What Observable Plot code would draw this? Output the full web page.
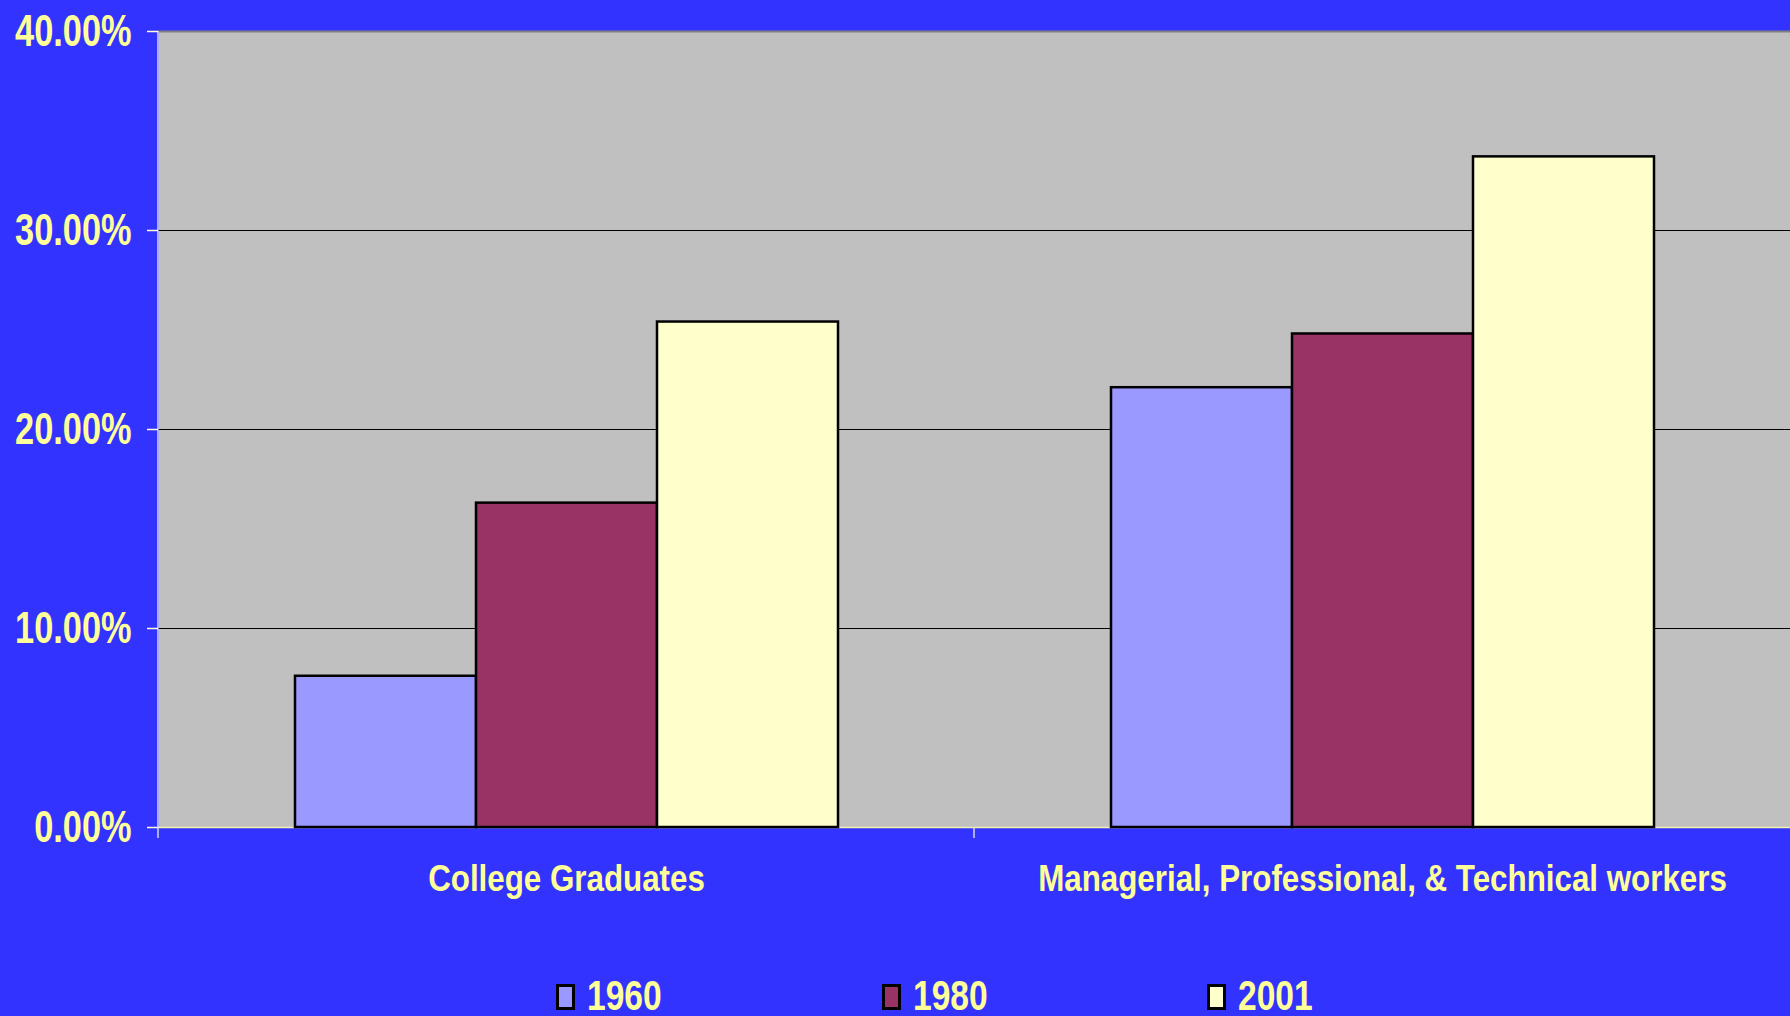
<!DOCTYPE html>
<html>
<head>
<meta charset="utf-8">
<script src="https://cdn.jsdelivr.net/npm/d3@7"></script>
<script src="https://cdn.jsdelivr.net/npm/@observablehq/plot@0.6"></script>
<style>
  html, body { margin: 0; padding: 0; background: #3333FF; }
  #wrap { position: relative; width: 1790px; height: 1016px; overflow: hidden; }
  #legend { position: absolute; left: 556px; top: 978px; display: flex; color: #FFFF99;
    font-family: "Liberation Sans", Arial, sans-serif; font-weight: bold; font-size: 42px; line-height: 36px; }
  .item { display: flex; align-items: center; width: 325.5px; height: 36px; }
  .sw { width: 19px; height: 26px; box-sizing: border-box; border: 3px solid #000; margin-right: 12px; margin-top: 2px; flex: none; }
  .lt { display: inline-block; transform: scaleX(0.8); transform-origin: 0 50%; white-space: nowrap; }
</style>
</head>
<body>
<div id="wrap"></div>
<script>
const categories = ["College Graduates", "Managerial, Professional, & Technical workers"];
const years = ["1960", "1980", "2001"];
const values1960 = [0.076, 0.221];
const values1980 = [0.163, 0.248];
const values2001 = [0.254, 0.337];
const yearColors = ["#9999FF", "#993366", "#FFFFCC"];
const yTicks = [0, 0.1, 0.2, 0.3, 0.4];
const yTickLabels = ["0.00%", "10.00%", "20.00%", "30.00%", "40.00%"];

const series = [values1960, values1980, values2001];
const data = categories.flatMap((c, i) => years.map((y, j) => ({category: c, year: y, value: series[j][i]})));

const FONT = '"Liberation Sans", Arial, sans-serif';

// per-facet boundary tick below the category axis
function boundaryTick(index, scales, values, dimensions) {
  const {marginLeft, marginBottom, height} = dimensions;
  const y0 = height - marginBottom;
  const g = d3.create("svg:g");
  g.append("line").attr("x1", marginLeft).attr("x2", marginLeft).attr("y1", y0).attr("y2", y0 + 11)
    .attr("stroke", "#D8D8E8").attr("stroke-width", 1.5);
  return g.node();
}

// vertical value-axis line, drawn only in the facet that holds a datum
function axisLineRender(index, scales, values, dimensions) {
  const {marginLeft, marginTop, marginBottom, height} = dimensions;
  const g = d3.create("svg:g");
  if (index.length) {
    g.append("line").attr("x1", marginLeft).attr("x2", marginLeft)
      .attr("y1", marginTop).attr("y2", height - marginBottom)
      .attr("stroke", "#FFFFE8").attr("stroke-width", 1.2);
  }
  return g.node();
}

const chart = Plot.plot({
  width: 1790,
  height: 1016,
  marginLeft: 157,
  marginRight: 0,
  marginTop: 31,
  marginBottom: 189,
  style: {background: "#3333FF", fontFamily: FONT, fontWeight: "bold", overflow: "visible"},
  fx: {domain: categories, padding: 0, label: null},
  x: {domain: years, paddingInner: 0, paddingOuter: 0.75, axis: null},
  y: {domain: [0, 0.4], axis: null},
  color: {domain: years, range: yearColors},
  marks: [
    Plot.frame({fill: "#C0C0C0", stroke: null, insetRight: -1, shapeRendering: "crispEdges"}),
    Plot.ruleY([0.4], {stroke: "#808080", strokeWidth: 2}),
    Plot.ruleY([0.1, 0.2, 0.3], {stroke: "#000", strokeWidth: 1.2}),
    Plot.ruleY([0], {stroke: "#F0F0B0", strokeWidth: 1.5}),
    Plot.rect([{category: categories[0]}], {fx: "category", y1: 0, y2: 0.4, fill: "none", render: axisLineRender}),
    Plot.barY(data, {fx: "category", x: "year", y: "value", fill: "year", stroke: "#000", strokeWidth: 2.5}),
    Plot.axisY({
      ticks: yTicks,
      tickFormat: d => yTickLabels[yTicks.indexOf(d)],
      tickSize: 11,
      tickPadding: 16,
      fontSize: 44,
      fill: "#FFFF99",
      stroke: "#FFFFE0",
      strokeWidth: 1.5,
      label: null,
      className: "ytl"
    }),
    Plot.axisFx({
      anchor: "bottom",
      tickSize: 0,
      tickPadding: 38,
      fontSize: 36,
      fill: "#FFFF99",
      label: null,
      className: "fxl"
    }),
    boundaryTick
  ]
});

const wrap = document.getElementById("wrap");
wrap.appendChild(chart);

// condense text horizontally to mimic a narrow face
function condense(sel, factor) {
  chart.querySelectorAll(sel).forEach(t => {
    const len = t.getComputedTextLength();
    if (len > 0) {
      t.setAttribute("textLength", (len * factor).toFixed(1));
      t.setAttribute("lengthAdjust", "spacingAndGlyphs");
    }
  });
}
condense(".ytl text", 0.78);
condense(".fxl text", 0.87);

const legend = document.createElement("div");
legend.id = "legend";
years.forEach((y, i) => {
  const item = document.createElement("div");
  item.className = "item";
  const sw = document.createElement("div");
  sw.className = "sw";
  sw.style.background = yearColors[i];
  const t = document.createElement("span");
  t.className = "lt";
  t.textContent = y;
  item.appendChild(sw);
  item.appendChild(t);
  legend.appendChild(item);
});
wrap.appendChild(legend);
</script>
</body>
</html>
